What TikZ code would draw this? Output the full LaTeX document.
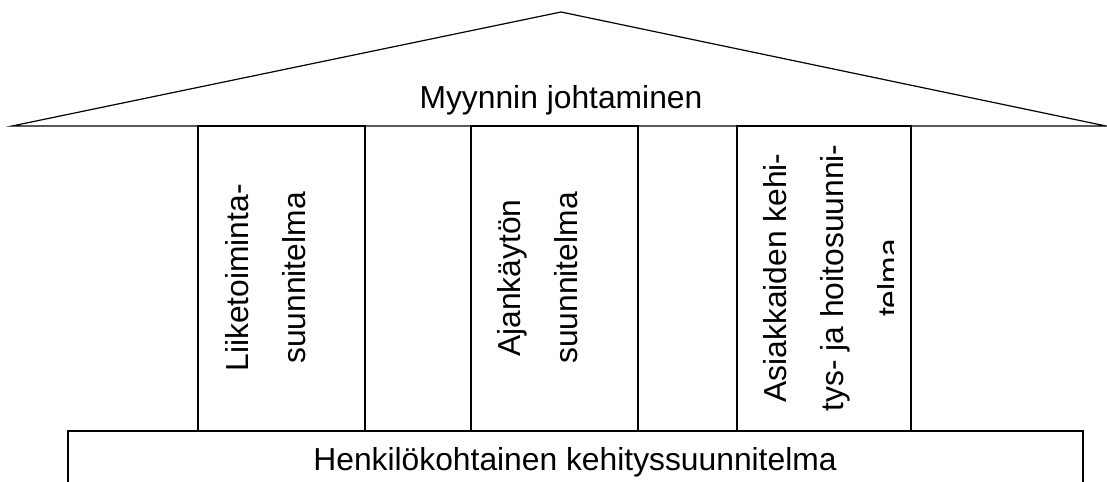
\documentclass[tikz,border=0pt]{standalone}
\usepackage{fontspec}
\setmainfont{Liberation Sans}
\begin{document}
\begin{tikzpicture}[x=0.75pt,y=-0.75pt, line width=0.9pt,
  lbl/.style={inner sep=0pt, font=\fontsize{23.85}{42.75}\selectfont},
  pillartext/.style={lbl, rotate=90, anchor=north, align=center}]
\useasboundingbox (0,0) rectangle (1107,482);
% roof
\draw (12,126) -- (561,12) -- (1106,126) -- cycle;
% pillars
\draw (198,126) rectangle (365,431);
\draw (471,126) rectangle (638,431);
\draw (737,126) rectangle (911,431);
% base
\draw (68,490) -- (68,431) -- (1083,431) -- (1083,490);
\node[lbl, anchor=base] (roof) at (561,108) {Myynnin johtaminen};
\node[lbl, anchor=base] (base) at (575,470) {Henkilökohtainen kehityssuunnitelma};
\node[pillartext] (p1) at (225,278) {Liiketoiminta-\\suunnitelma};
\node[pillartext] (p2) at (497,278) {Ajankäytön\\suunnitelma};
\begin{scope}
\clip (737,126) rectangle (893,431);
\node[pillartext] (p3) at (763,278) {Asiakkaiden kehi-\\tys- ja hoitosuunni-\\telma};
\end{scope}
\end{tikzpicture}
\end{document}
